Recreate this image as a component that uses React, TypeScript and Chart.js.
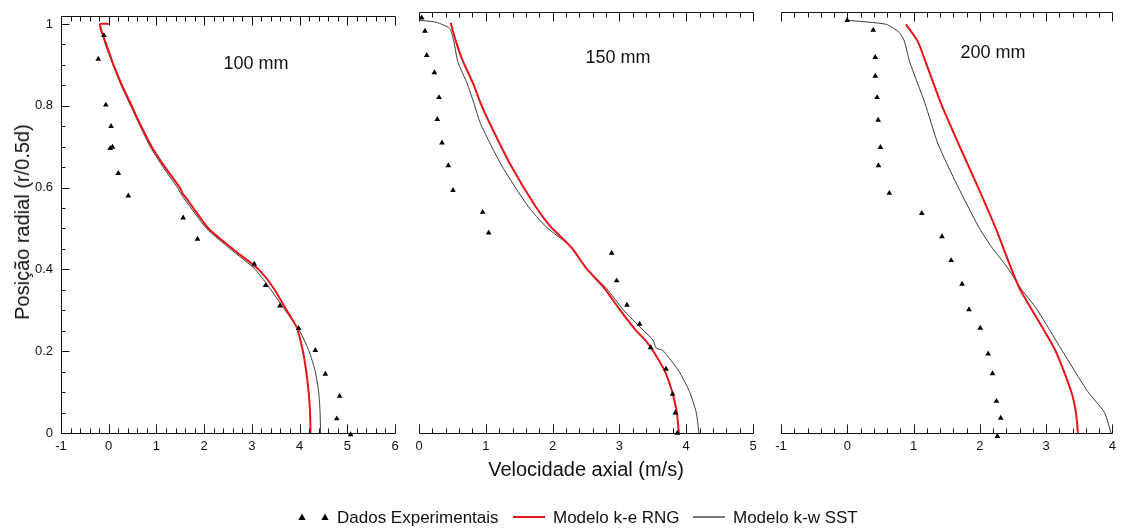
import React, { useEffect, useRef } from "react";
import { Chart, registerables } from "chart.js";

Chart.register(...registerables);

const FONT = 'Arial, "Liberation Sans", Helvetica, sans-serif';
const W = 1122;
const H = 528;

// ---------- Data: 100 mm ----------
const exp100X = [-0.1, -0.22, -0.06, 0.05, 0.03, 0.08, 0.2, 0.41, 1.56, 1.86, 3.05, 3.29, 3.59, 3.98, 4.33, 4.54, 4.84, 4.78, 5.07];
const exp100Y = [0.972, 0.914, 0.802, 0.75, 0.696, 0.699, 0.635, 0.58, 0.526, 0.474, 0.413, 0.361, 0.311, 0.256, 0.202, 0.144, 0.09, 0.035, -0.004];
const rng100X = [0.0, -0.18, -0.16, -0.05, 0.1, 0.28, 0.48, 0.68, 0.9, 1.18, 1.49, 1.55, 1.62, 2.09, 2.6, 3.14, 3.45, 3.73, 3.94, 4.07, 4.14, 4.19, 4.22, 4.23];
const rng100Y = [1.0, 1.0, 0.985, 0.95, 0.9, 0.85, 0.8, 0.75, 0.7, 0.65, 0.6, 0.585, 0.575, 0.5, 0.45, 0.4, 0.355, 0.3, 0.258, 0.2, 0.15, 0.1, 0.05, 0.0];
const sst100X = [-0.17, -0.07, 0.09, 0.26, 0.46, 0.66, 0.87, 1.14, 1.44, 1.51, 1.58, 2.05, 2.55, 3.07, 3.4, 3.7, 4.0, 4.2, 4.33, 4.4, 4.43, 4.44];
const sst100Y = [0.995, 0.95, 0.9, 0.85, 0.8, 0.75, 0.7, 0.65, 0.6, 0.585, 0.573, 0.5, 0.45, 0.4, 0.35, 0.3, 0.25, 0.2, 0.15, 0.1, 0.05, 0.0];

// ---------- Data: 150 mm ----------
const exp150X = [0.04, 0.09, 0.115, 0.23, 0.3, 0.274, 0.344, 0.439, 0.509, 0.953, 1.043, 2.884, 2.959, 3.114, 3.303, 3.468, 3.698, 3.797, 3.837, 3.867];
const exp150Y = [1.006, 0.974, 0.915, 0.873, 0.813, 0.76, 0.703, 0.648, 0.588, 0.535, 0.485, 0.436, 0.369, 0.31, 0.264, 0.207, 0.155, 0.094, 0.049, 0.0];
const rng150X = [0.474, 0.55, 0.66, 0.81, 0.92, 1.06, 1.37, 1.74, 1.97, 2.28, 2.5, 2.78, 3.0, 3.24, 3.38, 3.5, 3.68, 3.79, 3.86, 3.89];
const rng150Y = [0.994, 0.95, 0.9, 0.847, 0.8, 0.75, 0.65, 0.55, 0.5, 0.45, 0.4, 0.35, 0.3, 0.25, 0.226, 0.2, 0.15, 0.1, 0.05, 0.0];
const sst150X = [0.01, 0.26, 0.46, 0.52, 0.58, 0.72, 0.82, 0.92, 1.23, 1.63, 1.9, 2.28, 2.5, 2.81, 3.05, 3.35, 3.5, 3.55, 3.65, 3.89, 4.05, 4.15, 4.19];
const sst150Y = [1.0, 0.995, 0.98, 0.95, 0.9, 0.847, 0.8, 0.75, 0.65, 0.55, 0.5, 0.45, 0.4, 0.35, 0.3, 0.25, 0.226, 0.206, 0.2, 0.15, 0.1, 0.05, 0.0];

// ---------- Data: 200 mm ----------
const exp200X = [0.0, 0.391, 0.422, 0.422, 0.451, 0.466, 0.5, 0.47, 0.635, 1.124, 1.428, 1.567, 1.732, 1.837, 2.006, 2.126, 2.191, 2.25, 2.315, 2.265];
const exp200Y = [1.0, 0.976, 0.91, 0.865, 0.813, 0.758, 0.692, 0.648, 0.581, 0.532, 0.476, 0.418, 0.361, 0.299, 0.254, 0.192, 0.144, 0.077, 0.036, -0.008];
const rng200X = [0.884, 1.06, 1.18, 1.41, 1.68, 1.96, 2.23, 2.47, 2.6, 2.78, 3.14, 3.38, 3.45, 3.48];
const rng200Y = [0.99, 0.95, 0.9, 0.8, 0.7, 0.6, 0.5, 0.4, 0.35, 0.3, 0.2, 0.1, 0.05, 0.0];
const sst200X = [0.0, 0.59, 0.785, 0.86, 0.94, 1.17, 1.37, 1.66, 1.98, 2.18, 2.42, 2.62, 2.86, 3.24, 3.63, 3.88, 3.98];
const sst200Y = [1.0, 0.99, 0.97, 0.95, 0.9, 0.8, 0.7, 0.6, 0.5, 0.45, 0.4, 0.35, 0.3, 0.2, 0.1, 0.05, 0.0];

// ---------- Axis / labels ----------
const seriesNames = ["Dados Experimentais", "Modelo k-e RNG", "Modelo k-w SST"];
const panelLabels = ["100 mm", "150 mm", "200 mm"];
const xRanges: [number, number][] = [[-1, 6], [0, 5], [-1, 4]];
const yRange: [number, number] = [0, 1.02];
const xTitle = "Velocidade axial (m/s)";
const yTitle = "Posição radial (r/0.5d)";

const RED = "#e8141c";
const DARK = "#3a3a3a";

const zip = (xs: number[], ys: number[]) => xs.map((x, i) => ({ x, y: ys[i] }));

type PanelCfg = {
  left: number;
  right: number;
  showY: boolean;
  xr: [number, number];
  exp: [number[], number[]];
  rng: [number[], number[]];
  sst: [number[], number[]];
};

const PLOT_TOP = 12;
const PLOT_BOTTOM = 433;

const panels: PanelCfg[] = [
  { left: 61, right: 395, showY: true, xr: xRanges[0], exp: [exp100X, exp100Y], rng: [rng100X, rng100Y], sst: [sst100X, sst100Y] },
  { left: 419, right: 753, showY: false, xr: xRanges[1], exp: [exp150X, exp150Y], rng: [rng150X, rng150Y], sst: [sst150X, sst150Y] },
  { left: 781, right: 1115, showY: false, xr: xRanges[2], exp: [exp200X, exp200Y], rng: [rng200X, rng200Y], sst: [sst200X, sst200Y] },
];

const framePlugin = (showY: boolean) => ({
  id: "frame",
  afterDraw(chart: any) {
    const { ctx, chartArea } = chart;
    const { left, right, top, bottom } = chartArea;
    const xs = chart.scales.x;
    const ys = chart.scales.y;
    const r = (v: number) => Math.round(v) + 0.5;
    ctx.save();
    ctx.strokeStyle = "#111";
    ctx.lineWidth = 1;
    ctx.beginPath();
    ctx.moveTo(r(left), r(bottom));
    ctx.lineTo(r(right), r(bottom));
    ctx.moveTo(r(left), r(top));
    ctx.lineTo(r(right), r(top));
    if (showY) {
      ctx.moveTo(r(left), r(top));
      ctx.lineTo(r(left), r(bottom));
    }
    const [x0, x1] = [xs.min, xs.max];
    const n = Math.round((x1 - x0) / 0.2);
    for (let i = 0; i <= n; i++) {
      const v = x0 + i * 0.2;
      const len = i % 5 === 0 ? 9 : 5;
      const px = r(xs.getPixelForValue(v));
      ctx.moveTo(px, r(bottom));
      ctx.lineTo(px, r(bottom) - len);
      ctx.moveTo(px, r(top));
      ctx.lineTo(px, r(top) + len);
    }
    if (showY) {
      for (let i = 0; i <= 20; i++) {
        const v = i * 0.05;
        const len = i % 4 === 0 ? 8 : 4;
        const py = r(ys.getPixelForValue(v));
        ctx.moveTo(r(left), py);
        ctx.lineTo(r(left) + len, py);
      }
    }
    ctx.stroke();
    ctx.restore();
  },
});

function Panel({ cfg }: { cfg: PanelCfg }) {
  const ref = useRef<HTMLCanvasElement | null>(null);
  useEffect(() => {
    if (!ref.current) return;
    const chart = new Chart(ref.current, {
      type: "scatter",
      data: {
        datasets: [
          {
            label: seriesNames[0],
            data: zip(cfg.exp[0], cfg.exp[1]),
            pointStyle: "triangle",
            pointRadius: 3.3,
            backgroundColor: "#000",
            borderColor: "#000",
            borderWidth: 0,
            showLine: false,
            clip: false as any,
          },
          {
            label: seriesNames[1],
            data: zip(cfg.rng[0], cfg.rng[1]),
            showLine: true,
            borderColor: RED,
            backgroundColor: RED,
            borderWidth: 2,
            pointRadius: 0,
            tension: 0.2,
          },
          {
            label: seriesNames[2],
            data: zip(cfg.sst[0], cfg.sst[1]),
            showLine: true,
            borderColor: DARK,
            backgroundColor: DARK,
            borderWidth: 1,
            pointRadius: 0,
            tension: 0.2,
          },
        ],
      } as any,
      options: {
        responsive: false,
        animation: false,
        events: [],
        layout: {
          padding: { left: 0, right: W - cfg.right, top: PLOT_TOP, bottom: 0 },
        },
        plugins: { legend: { display: false }, tooltip: { enabled: false } },
        scales: {
          x: {
            type: "linear",
            min: cfg.xr[0],
            max: cfg.xr[1],
            afterFit: (s: any) => {
              s.height = H - PLOT_BOTTOM;
            },
            grid: { display: false, drawTicks: false },
            border: { display: false },
            ticks: {
              stepSize: 1,
              includeBounds: false,
              autoSkip: false,
              maxRotation: 0,
              padding: 6,
              color: "#111",
              font: { family: FONT, size: 13 },
            },
          },
          y: {
            type: "linear",
            min: yRange[0],
            max: yRange[1],
            display: true,
            afterFit: (s: any) => {
              s.width = cfg.left;
            },
            grid: { display: false, drawTicks: false },
            border: { display: false },
            ticks: {
              display: cfg.showY,
              stepSize: 0.2,
              includeBounds: false,
              autoSkip: false,
              padding: 8,
              color: "#111",
              font: { family: FONT, size: 13 },
              callback: (v: number) => String(Number(Number(v).toFixed(2))),
            },
          },
        },
      } as any,
      plugins: [framePlugin(cfg.showY)],
    });
    return () => chart.destroy();
  }, [cfg]);
  return (
    <canvas
      ref={ref}
      width={W}
      height={H}
      style={{ position: "absolute", left: 0, top: 0, width: W, height: H }}
    />
  );
}

const textBase: React.CSSProperties = {
  position: "absolute",
  fontFamily: FONT,
  color: "#111",
  whiteSpace: "nowrap",
  lineHeight: 1,
};

function Tri({ cx }: { cx: number }) {
  return (
    <svg width={8} height={8} style={{ position: "absolute", left: cx - 4, top: 517 - 4 }}>
      <polygon points="4,0.5 7.6,7 0.4,7" fill="#000" />
    </svg>
  );
}

function Line({ x0, x1, color, w }: { x0: number; x1: number; color: string; w: number }) {
  return (
    <div
      style={{
        position: "absolute",
        left: x0,
        top: 517 - w / 2,
        width: x1 - x0,
        height: w,
        background: color,
      }}
    />
  );
}

export default function App() {
  const labelPos = [
    [256, 63],
    [618, 57],
    [993, 52],
  ];
  return (
    <div
      style={{
        position: "fixed",
        left: 0,
        top: 0,
        width: W,
        height: H,
        background: "#fff",
        overflow: "hidden",
      }}
    >
      {panels.map((p, i) => (
        <Panel key={i} cfg={p} />
      ))}
      {panelLabels.map((t, i) => (
        <div
          key={t}
          style={{
            ...textBase,
            fontSize: 18,
            left: labelPos[i][0],
            top: labelPos[i][1],
            transform: "translate(-50%, -50%)",
          }}
        >
          {t}
        </div>
      ))}
      <div
        style={{
          ...textBase,
          fontSize: 20,
          left: 22,
          top: 222,
          transform: "translate(-50%, -50%) rotate(-90deg)",
        }}
      >
        {yTitle}
      </div>
      <div
        style={{
          ...textBase,
          fontSize: 20,
          left: 586,
          top: 469,
          transform: "translate(-50%, -50%)",
        }}
      >
        {xTitle}
      </div>
      <Tri cx={302} />
      <Tri cx={325} />
      <div style={{ ...textBase, fontSize: 17, left: 337, top: 517, transform: "translateY(-50%)" }}>
        {seriesNames[0]}
      </div>
      <Line x0={513} x1={545} color={RED} w={2} />
      <div style={{ ...textBase, fontSize: 17, left: 553, top: 517, transform: "translateY(-50%)" }}>
        {seriesNames[1]}
      </div>
      <Line x0={693} x1={725} color={"#777"} w={1.5} />
      <div style={{ ...textBase, fontSize: 17, left: 733, top: 517, transform: "translateY(-50%)" }}>
        {seriesNames[2]}
      </div>
    </div>
  );
}
